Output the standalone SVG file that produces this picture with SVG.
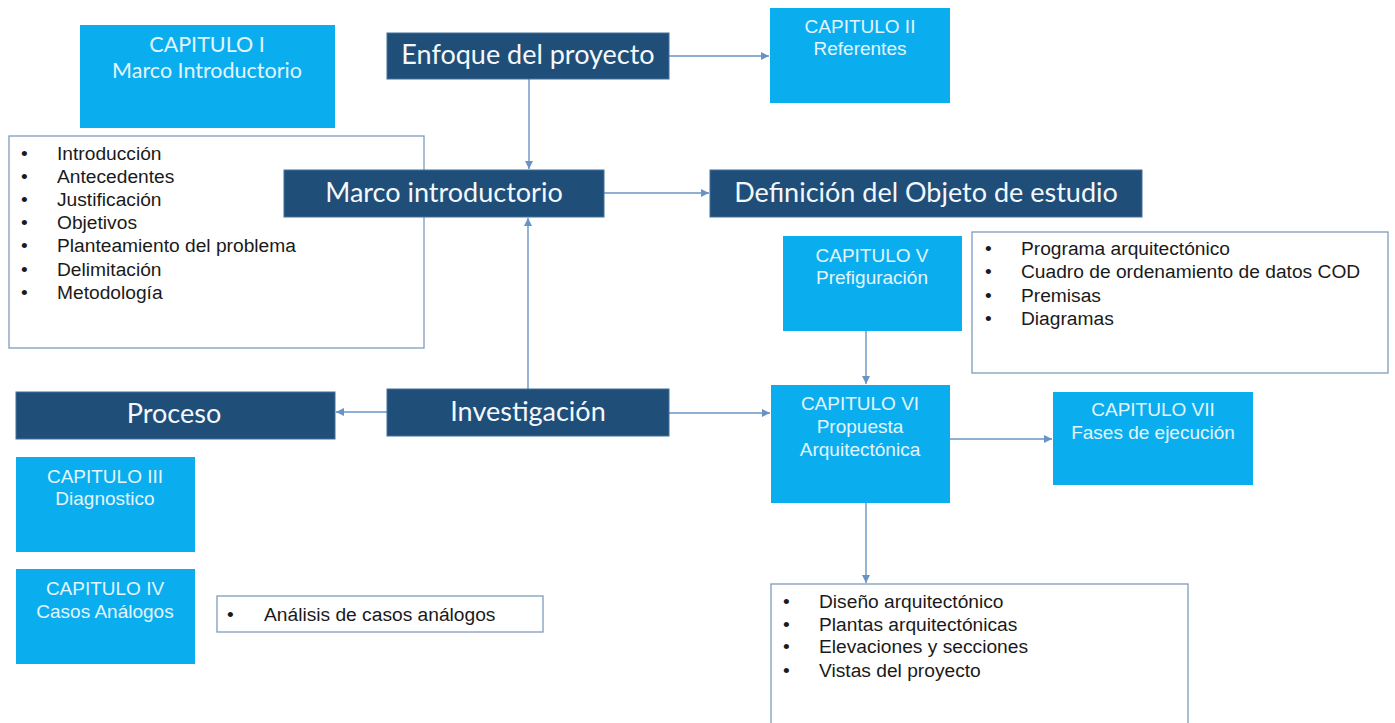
<svg xmlns="http://www.w3.org/2000/svg" width="1395" height="723" viewBox="0 0 1395 723">
<defs>
<marker id="ah" markerWidth="10" markerHeight="10" refX="8" refY="4" orient="auto" markerUnits="userSpaceOnUse">
<path d="M0,0 L8,4 L0,8 Z" fill="#6a93c4"/>
</marker>
<style>
.dark{fill:#1f4e79;stroke:#41719c;stroke-width:1}
.light{fill:#0aaeef}
.list{fill:#ffffff;stroke:#7f9bbd;stroke-width:1.3}
.dt{font-family:Lato,"Open Sans",sans-serif;font-size:27px;fill:#f4f8fc;text-anchor:middle}
.ct{font-family:"Liberation Sans",Arial,sans-serif;font-size:19px;fill:#e3f5fd;text-anchor:middle}
.ct1{font-family:Lato,"Open Sans",sans-serif;font-size:21.5px;fill:#e3f5fd;text-anchor:middle}
.bt{font-family:"Liberation Sans",Arial,sans-serif;font-size:19.2px;fill:#1a1a1a}
.cn{stroke:#6a93c4;stroke-width:1.4;fill:none;marker-end:url(#ah)}
</style>
</defs>
<rect width="1395" height="723" fill="#ffffff"/>

<g id="connectors">
<line class="cn" x1="669" y1="56" x2="769" y2="56"/>
<line class="cn" x1="529" y1="79" x2="529" y2="169"/>
<line class="cn" x1="604" y1="193" x2="709" y2="193"/>
<line class="cn" x1="528" y1="389" x2="528" y2="218"/>
<line class="cn" x1="387" y1="412" x2="336" y2="412"/>
<line class="cn" x1="669" y1="413" x2="770" y2="413"/>
<line class="cn" x1="866" y1="331" x2="866" y2="384"/>
<line class="cn" x1="950" y1="439" x2="1052" y2="439"/>
<line class="cn" x1="866" y1="503" x2="866" y2="583"/>
</g>

<g id="cap1">
<rect class="light" x="80" y="25" width="255" height="103"/>
<text class="ct1" x="207" y="52">CAPITULO I</text>
<text class="ct1" x="207" y="78">Marco Introductorio</text>
</g>

<g id="list1">
<rect class="list" x="9" y="136" width="415" height="212"/>
<g class="bt">
<text x="21" y="160">•</text><text x="57" y="160">Introducción</text>
<text x="21" y="183">•</text><text x="57" y="183">Antecedentes</text>
<text x="21" y="206">•</text><text x="57" y="206">Justificación</text>
<text x="21" y="229">•</text><text x="57" y="229">Objetivos</text>
<text x="21" y="252">•</text><text x="57" y="252">Planteamiento del problema</text>
<text x="21" y="276">•</text><text x="57" y="276">Delimitación</text>
<text x="21" y="299">•</text><text x="57" y="299">Metodología</text>
</g>
</g>

<g id="enfoque">
<rect class="dark" x="387" y="33" width="282" height="46"/>
<text class="dt" x="528" y="64">Enfoque del proyecto</text>
</g>

<g id="cap2">
<rect class="light" x="770" y="8" width="180" height="95"/>
<text class="ct" x="860" y="33">CAPITULO II</text>
<text class="ct" x="860" y="55">Referentes</text>
</g>

<g id="marco">
<rect class="dark" x="284" y="170" width="320" height="47"/>
<text class="dt" x="444" y="202">Marco introductorio</text>
</g>

<g id="definicion">
<rect class="dark" x="710" y="170" width="432" height="47"/>
<text class="dt" x="926" y="202">Definición del Objeto de estudio</text>
</g>

<g id="cap5">
<rect class="light" x="783" y="236" width="179" height="95"/>
<text class="ct" x="872" y="262">CAPITULO V</text>
<text class="ct" x="872" y="284">Prefiguración</text>
</g>

<g id="list5">
<rect class="list" x="972" y="232" width="416" height="141"/>
<g class="bt">
<text x="985" y="255">•</text><text x="1021" y="255">Programa arquitectónico</text>
<text x="985" y="278">•</text><text x="1021" y="278">Cuadro de ordenamiento de datos COD</text>
<text x="985" y="302">•</text><text x="1021" y="302">Premisas</text>
<text x="985" y="325">•</text><text x="1021" y="325">Diagramas</text>
</g>
</g>

<g id="proceso">
<rect class="dark" x="16" y="392" width="319" height="47"/>
<text class="dt" x="174" y="423">Proceso</text>
</g>

<g id="investigacion">
<rect class="dark" x="387" y="389" width="282" height="47"/>
<text class="dt" x="528" y="421">Investigación</text>
</g>

<g id="cap6">
<rect class="light" x="771" y="385" width="179" height="118"/>
<text class="ct" x="860" y="410">CAPITULO VI</text>
<text class="ct" x="860" y="433">Propuesta</text>
<text class="ct" x="860" y="456">Arquitectónica</text>
</g>

<g id="cap7">
<rect class="light" x="1053" y="392" width="200" height="93"/>
<text class="ct" x="1153" y="416">CAPITULO VII</text>
<text class="ct" x="1153" y="439">Fases de ejecución</text>
</g>

<g id="cap3">
<rect class="light" x="16" y="457" width="179" height="95"/>
<text class="ct" x="105" y="483">CAPITULO III</text>
<text class="ct" x="105" y="505">Diagnostico</text>
</g>

<g id="cap4">
<rect class="light" x="16" y="569" width="179" height="95"/>
<text class="ct" x="105" y="595">CAPITULO IV</text>
<text class="ct" x="105" y="618">Casos Análogos</text>
</g>

<g id="list4">
<rect class="list" x="217" y="596" width="326" height="36"/>
<text class="bt" x="227" y="621">•</text><text class="bt" x="264" y="621">Análisis de casos análogos</text>
</g>

<g id="list6">
<rect class="list" x="771" y="584" width="417" height="150"/>
<g class="bt">
<text x="783" y="608">•</text><text x="819" y="608">Diseño arquitectónico</text>
<text x="783" y="631">•</text><text x="819" y="631">Plantas arquitectónicas</text>
<text x="783" y="653">•</text><text x="819" y="653">Elevaciones y secciones</text>
<text x="783" y="677">•</text><text x="819" y="677">Vistas del proyecto</text>
</g>
</g>
</svg>
